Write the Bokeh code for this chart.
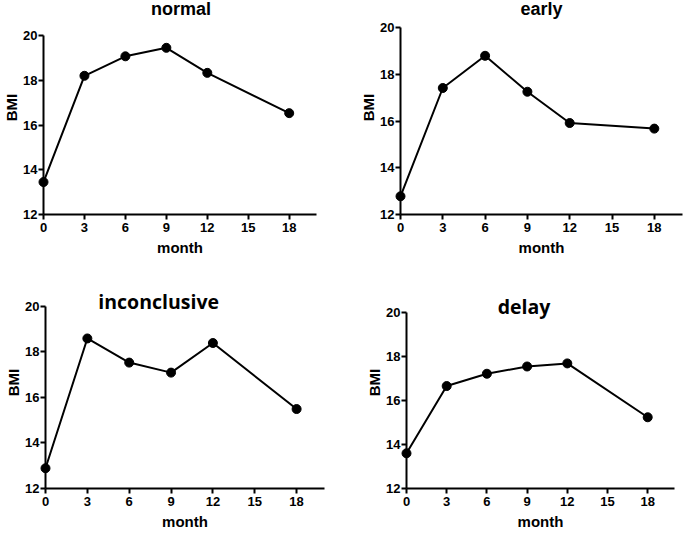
from bokeh.plotting import figure
from bokeh.layouts import column, row
from bokeh.models import FixedTicker, Label, Range1d
from bokeh.embed import file_html
from bokeh.resources import INLINE

months = [0, 3, 6, 9, 12, 18]
normal = [13.45, 18.2, 19.07, 19.45, 18.33, 16.53]
early = [12.78, 17.42, 18.8, 17.26, 15.92, 15.68]
inconclusive = [12.89, 18.59, 17.53, 17.09, 18.39, 15.49]
delay = [13.6, 16.66, 17.22, 17.55, 17.69, 15.24]
x_ticks = [0, 3, 6, 9, 12, 15, 18]
y_ticks = [12, 14, 16, 18, 20]

FONT = "Liberation Sans"


def panel(name, values, width, height, mbl, mbr, y20_px, mbb,
          title_x, title_dy, title_font, title_size):
    # frame spans from the canvas top down to the x axis; the part above
    # y=20 holds the panel title
    frame_h = height - mbb
    y_end = 20 + y20_px * 8.0 / (frame_h - y20_px)
    p = figure(width=width, height=height, title=None,
               x_range=Range1d(0, 20), y_range=Range1d(12, y_end),
               output_backend="svg", toolbar_location=None,
               min_border_left=mbl, min_border_right=mbr,
               min_border_top=0, min_border_bottom=mbb)
    p.outline_line_color = None
    p.xgrid.grid_line_color = None
    p.ygrid.grid_line_color = None
    p.background_fill_color = "white"
    p.border_fill_color = "white"

    p.line(months, values, line_width=2, line_color="black", level="overlay")
    p.scatter(months, values, size=9, fill_color="black", line_color="black",
              level="overlay")

    for ax in (p.xaxis[0], p.yaxis[0]):
        ax.axis_line_width = 2
        ax.axis_line_color = "black"
        ax.major_tick_line_width = 2
        ax.major_tick_line_color = "black"
        ax.major_tick_out = 5
        ax.major_tick_in = 0
        ax.minor_tick_line_color = None
        ax.major_label_text_font = FONT
        ax.major_label_text_font_style = "bold"
        ax.major_label_text_font_size = "13px"
        ax.major_label_text_color = "black"
        ax.axis_label_text_font = FONT
        ax.axis_label_text_font_style = "bold"
        ax.axis_label_text_font_size = "15px"
        ax.axis_label_text_color = "black"

    p.xaxis.major_label_standoff = 3
    p.xaxis.axis_label_standoff = 4
    p.yaxis.major_label_standoff = 1
    p.yaxis.axis_label_standoff = 0
    p.xaxis.bounds = (0, 20)
    p.yaxis.bounds = (12, 20)

    p.xaxis.ticker = FixedTicker(ticks=x_ticks)
    p.yaxis.ticker = FixedTicker(ticks=y_ticks)
    p.xaxis.axis_label = "month"
    p.yaxis.axis_label = "BMI"

    p.add_layout(Label(x=title_x, y=20, y_offset=title_dy, text=name,
                       text_align="center", text_baseline="alphabetic",
                       text_font=title_font, text_font_style="bold",
                       text_font_size=title_size, text_color="black"))
    return p


p1 = panel("normal", normal, 356, 276, 42, 40, 35.5, 59, 10.07, 26.5,
           FONT, "18px")
p2 = panel("early", early, 328, 276, 44, 2, 27.3, 62, 10.0, 18.8,
           FONT, "18px")
p3 = panel("inconclusive", inconclusive, 356, 256, 45, 32, 30, 43, 8.11, 5.3,
           "Open Sans", "19.5px")
p4 = panel("delay", delay, 328, 256, 50, 10, 36.3, 43, 8.77, 6,
           "Open Sans", "19.5px")

layout = column(row(p1, p2), row(p3, p4))
open("out.html", "w").write(file_html(layout, INLINE))
